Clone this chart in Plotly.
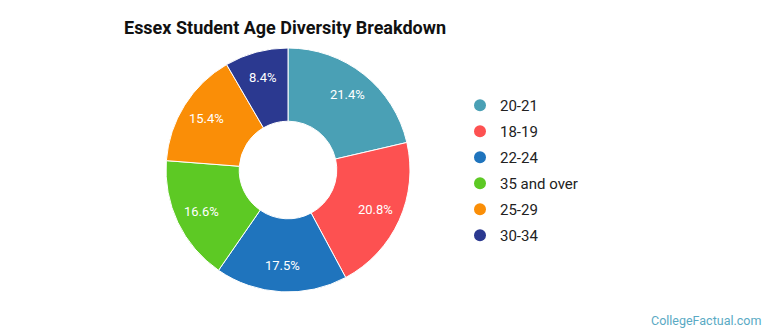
import math
import plotly.graph_objects as go

labels = ["20-21", "18-19", "22-24", "35 and over", "25-29", "30-34"]
values = [21.4, 20.8, 17.5, 16.6, 15.4, 8.4]
colors = ["#4aa0b5", "#fd5151", "#1f74bd", "#5dc924", "#fa8e07", "#2b3990"]
text_labels = [f"{v:.1f}%" for v in values]

W, H = 770, 335
cx, cy, r = 288, 170, 122
label_r = 96

fig = go.Figure()
fig.add_trace(go.Pie(
    labels=labels, values=values, sort=False, direction="clockwise", rotation=0,
    hole=0.4, marker=dict(colors=colors, line=dict(color="white", width=1)),
    textinfo="none",
    domain=dict(x=[(cx - r) / W, (cx + r) / W], y=[1 - (cy + r) / H, 1 - (cy - r) / H]),
    showlegend=False, hoverinfo="label+percent",
))
for lab, col in zip(labels, colors):
    fig.add_trace(go.Scatter(
        x=[None], y=[None], mode="markers", name=lab, legendgroup=lab,
        marker=dict(symbol="circle", size=16, color=col), showlegend=True,
    ))

annotations = []
total = sum(values)
cum = 0.0
for v, t in zip(values, text_labels):
    mid = (cum + v / 2) / total * 2 * math.pi
    cum += v
    px = cx + label_r * math.sin(mid)
    py = cy - label_r * math.cos(mid)
    annotations.append(dict(text=t, x=px / W, y=1 - py / H, xref="paper", yref="paper",
                            xanchor="center", yanchor="middle", showarrow=False,
                            font=dict(family="Roboto", size=13, color="white")))
annotations.append(dict(text="CollegeFactual.com", x=1 - 7 / W, y=15 / H, xref="paper", yref="paper",
                        xanchor="right", yanchor="middle", showarrow=False,
                        font=dict(family="Roboto", size=12.5, color="#5aaac4")))

fig.update_layout(
    width=W, height=H, margin=dict(l=0, r=0, t=0, b=0),
    paper_bgcolor="white", plot_bgcolor="white",
    xaxis=dict(visible=False), yaxis=dict(visible=False),
    font=dict(family="Roboto", color="#222"),
    title=dict(text="<b>Essex Student Age Diversity Breakdown</b>", x=124 / W, xanchor="left",
               y=1 - 28 / H, yanchor="middle", font=dict(family="Roboto", size=18, color="#111")),
    legend=dict(x=460 / W, y=1 - 89 / H, xanchor="left", yanchor="top",
                font=dict(family="Roboto", size=15, color="#222"), itemsizing="constant",
                tracegroupgap=3.5, bgcolor="rgba(0,0,0,0)"),
    annotations=annotations,
)
fig.write_html("out.html")
